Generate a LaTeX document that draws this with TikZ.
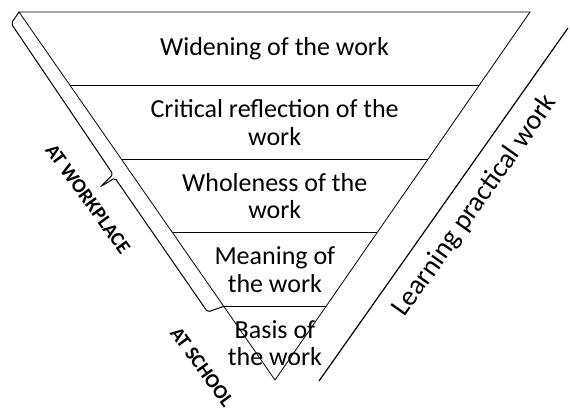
\documentclass[tikz,border=0pt]{standalone}
\usepackage{fontspec}
\setmainfont{Carlito}
\usetikzlibrary{calc}

\begin{document}
\begin{tikzpicture}[x=1pt,y=1pt,
  level/.style={font=\fontsize{26}{27.5}\selectfont, align=center},
  side/.style={font=\fontsize{20}{21}\selectfont\bfseries, rotate=-54}]
\useasboundingbox (0,0) rectangle (570,408);

% funnel
  \coordinate (TL) at (19,396);
  \coordinate (TR) at (530,396);
  \coordinate (A) at (275,28);
  \draw[line width=0.8pt] (TL) -- (TR) -- (A) -- cycle;
  \foreach \k in {1,...,4}
    \draw[line width=0.8pt] ($(TL)!\k/5!(A)$) coordinate (l\k) -- ($(TR)!\k/5!(A)$) coordinate (r\k);

% levels
  \foreach \t/\txt [count=\i] in {0.1/Widening of the work,
      0.3/Critical reflection of the\\work,
      0.5/Wholeness of the\\work,
      0.7/Meaning of\\the work,
      0.9/Basis of\\the work}
    \node[level] (lev\i) at ($($(TL)!\t!(A)$)!0.5!($(TR)!\t!(A)$)$) {\txt};

% brace along the left side
  \draw[line width=1pt, rounded corners=2pt, shift={(TL)}, rotate=-55.18]
    (0,0) -- (5,-13) -- (187,-15.5) -- (190,-33) -- (191,-16) -- (354,-16.5) -- (358.6,0);
  \node[side] (work) at (88,209) {AT WORKPLACE};
  \node[side] (school) at (202,41) {AT SCHOOL};

% learning
  \coordinate (lo) at (319,27);
  \coordinate (hi) at (568,380);
  \draw[line width=1.2pt] (lo) -- (hi);
  \node[rotate=54.8, font=\fontsize{28}{30}\selectfont] (learn) at (475,202) {Learning practical work};
\end{tikzpicture}
\end{document}
